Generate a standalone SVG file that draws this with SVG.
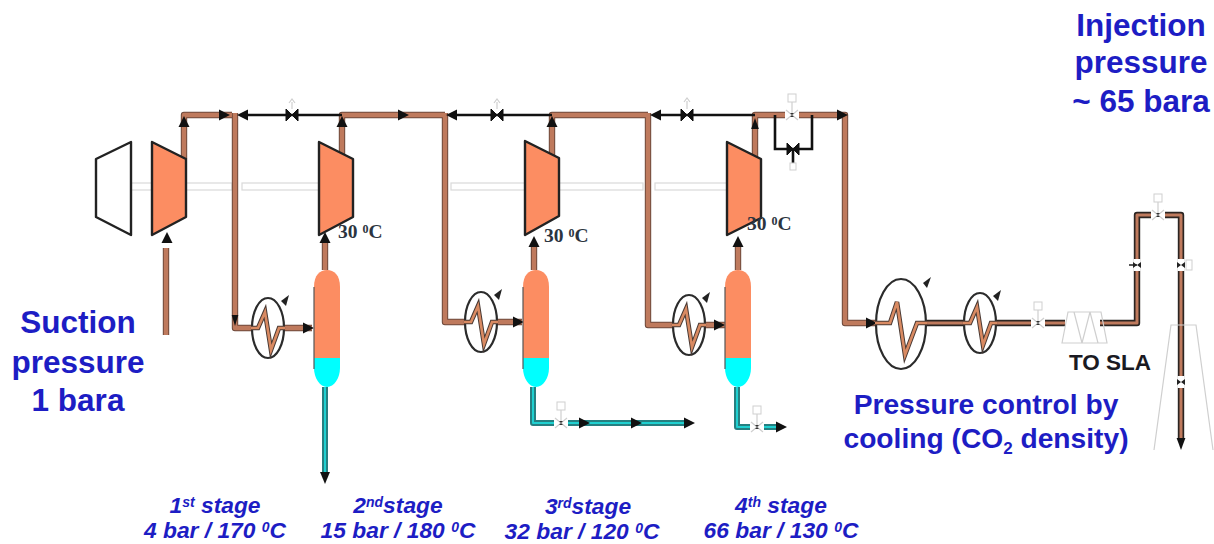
<svg xmlns="http://www.w3.org/2000/svg" width="1214" height="544" viewBox="0 0 1214 544">
<style>
text{font-family:"Liberation Sans",Arial,sans-serif;text-anchor:middle}
.b{fill:#1d1dc4;font-weight:700}
.big{font-size:31.5px}.mid{font-size:28.2px}
.st{font-size:22.8px;font-style:italic}
.t{font-family:"Liberation Serif","Times New Roman",serif;font-size:19.5px;font-weight:700;fill:#2b3440;text-anchor:start}
.sl{font-size:22.5px;font-weight:700;fill:#1a1a22}
.edge{fill:none;stroke:#6e4a3c;stroke-width:6.4;stroke-linejoin:round}
.pipe{fill:none;stroke:#bf7a5d;stroke-width:4.4;stroke-linejoin:round}
.edged{fill:none;stroke:#2b2522;stroke-width:6.4;stroke-linejoin:round}
.piped{fill:none;stroke:#bf7a5d;stroke-width:3;stroke-linejoin:round}
.teal{fill:none;stroke:#257f80;stroke-width:6;stroke-linejoin:round}
.cy{fill:none;stroke:#1fd0d0;stroke-width:2;stroke-linejoin:round}
.blk{fill:none;stroke:#111;stroke-width:2.6}
.comp{fill:#fc8d62;stroke:#222;stroke-width:2.4;stroke-linejoin:round}
.shaft{fill:#fff;stroke:#d9d9d9;stroke-width:1.2}
.ex{fill:#fff;stroke:#2b2b2b;stroke-width:2.2}
.zig{fill:none;stroke:#d98a62;stroke-width:2.6;stroke-linejoin:miter}
.zige{fill:none;stroke:#4a3a34;stroke-width:4.6}
.g{fill:none;stroke:#cfcfcf;stroke-width:1.2}
</style>
<defs>
<path id="ar" d="M-11,-5.5 L0,0 L-11,5.5 Z" fill="#111"/>
<g id="val"><path d="M-6,-6 L0,0 L-6,6 Z M6,-6 L0,0 L6,6 Z" fill="#111" stroke="#111"/></g>
<g id="gval"><rect x="-7" y="-6" width="14" height="12" fill="#fff"/><path d="M-6,-5 L6,5 M-6,5 L6,-5 M0,0 V-13" class="g"/><rect x="-4" y="-21" width="8" height="8" fill="#fff" stroke="#cfcfcf"/><path d="M-2,-2 L2,-2 L-2,2 L2,2 Z" fill="#333"/></g>
<g id="xc"><ellipse rx="16" ry="30" class="ex"/><path d="M-17,0 H-10 L-3,-16 L3,22 L11,0 H17" class="zige"/><path d="M-17,0 H-10 L-3,-16 L3,22 L11,0 H17" class="zig"/><path d="M13,-27 L21,-33 L18,-22 Z" fill="#222"/></g>
<g id="vess"><path d="M0,17 C0,5 6,0 13,0 C20,0 26,5 26,17 V88 H0 Z" fill="#fc8d62"/><path d="M0,88 H26 V98 C26,108 20,117 13,117 C6,117 0,108 0,98 Z" fill="#0ff"/><path d="M0,17 V99" stroke="#555" stroke-width="1.2"/></g>
</defs>

<g id="shafts">
<rect class="shaft" x="131" y="183" width="101" height="7"/>
<rect class="shaft" x="242" y="183" width="77" height="7"/>
<rect class="shaft" x="451" y="183" width="192" height="7"/>
<rect class="shaft" x="655" y="183" width="72" height="7"/>
</g>

<g id="connectors">
<path class="edge" d="M166,335 V248 M184,159 V115 H232 M235,113 V328 H256 M279,328 H312 M325,270 V243"/>
<path class="pipe" d="M166,335 V248 M184,159 V115 H232 M235,113 V328 H256 M279,328 H312 M325,270 V243"/>
<path class="edge" d="M342,159 V115 H445 M445,113 V322 H470 M493,322 H522 M534,270 V243"/>
<path class="pipe" d="M342,159 V115 H445 M445,113 V322 H470 M493,322 H522 M534,270 V243"/>
<path class="edge" d="M552,159 V115 H648 M648,113 V325 H677 M700,325 H725 M738,270 V243"/>
<path class="pipe" d="M552,159 V115 H648 M648,113 V325 H677 M700,325 H725 M738,270 V243"/>
<path class="edge" d="M755,159 V115 H845 V323 H875"/>
<path class="pipe" d="M755,159 V115 H845 V323 H875"/>
<path class="edged" d="M925,323 H1065 M1100,323 H1137 V215 H1181 V438"/>
<path class="piped" d="M925,323 H1065 M1100,323 H1137 V215 H1181 V438"/>
<path class="blk" d="M244,115 H342 M454,115 H552 M658,115 H755"/>
<path class="blk" d="M775,115 V149 H812 V115"/>
<path class="blk" d="M793,149 V163" stroke-width="2"/>
<path class="teal" d="M325,387 V472 M533,387 V423 H686 M737,387 V427 H778"/>
<path class="cy" d="M325,387 V472 M533,387 V423 H686 M737,387 V427 H778"/>
<use href="#ar" transform="translate(230,115)"/>
<use href="#ar" transform="translate(409,115)"/>
<use href="#ar" transform="translate(848,115)"/>
<use href="#ar" transform="translate(237,115) rotate(180)"/>
<use href="#ar" transform="translate(446,115) rotate(180)"/>
<use href="#ar" transform="translate(650,115) rotate(180)"/>
<use href="#ar" transform="translate(167,232) rotate(-90)"/>
<use href="#ar" transform="translate(184,116) rotate(-90)"/>
<use href="#ar" transform="translate(342,116) rotate(-90)"/>
<use href="#ar" transform="translate(552,116) rotate(-90)"/>
<use href="#ar" transform="translate(755,118) rotate(-90) scale(1,.7)"/>
<use href="#ar" transform="translate(325,232) rotate(-90)"/>
<use href="#ar" transform="translate(534,236) rotate(-90)"/>
<use href="#ar" transform="translate(738,236) rotate(-90)"/>
<use href="#ar" transform="translate(314,328)"/>
<use href="#ar" transform="translate(524,322)"/>
<use href="#ar" transform="translate(725,325)"/>
<use href="#ar" transform="translate(877,323)"/>
<use href="#ar" transform="translate(325,484)rotate(90) scale(1.1,.9)"/>
<use href="#ar" transform="translate(1181,450) rotate(90) scale(1.1,.8)"/>
<use href="#ar" transform="translate(235,326) rotate(90) scale(1,.6)"/>
<use href="#ar" transform="translate(590,423)"/>
<use href="#ar" transform="translate(642,423)"/>
<use href="#ar" transform="translate(695,423)"/>
<use href="#ar" transform="translate(787,427)"/>
</g>

<g id="valves">
<use href="#val" transform="translate(292,115)"/>
<path class="g" d="M292,109 V102 M289,103 L292,99 L295,103"/>
<use href="#val" transform="translate(497,115)"/>
<path class="g" d="M497,109 V102 M494,103 L497,99 L500,103"/>
<use href="#val" transform="translate(687,115)"/>
<path class="g" d="M687,109 V101 M684,102 L687,98 L690,102"/>
<use href="#gval" transform="translate(792,115)"/>
<use href="#val" transform="translate(793,149)"/>
<rect x="790" y="163" width="6" height="7" fill="#fff" stroke="#cfcfcf"/>
<use href="#gval" transform="translate(561,423)"/>
<use href="#gval" transform="translate(757,427)"/>
<use href="#gval" transform="translate(1038,323)"/>
<use href="#gval" transform="translate(1158,215)"/>
<path d="M1137,259 V271 M1181,259 V271 M1181,376 V388" stroke="#fff" stroke-width="7" fill="none"/>
<path d="M1133,262 L1137,265 L1133,268 Z M1141,262 L1137,265 L1141,268 Z M1177,262 L1181,265 L1177,268 Z M1185,262 L1181,265 L1185,268 Z M1177,379 L1181,382 L1177,385 Z M1185,379 L1181,382 L1185,385 Z" fill="#222"/>
<path d="M1129,265 H1137" stroke="#222" stroke-width="1.5"/>
<rect x="1186" y="260" width="6" height="10" fill="#fff" stroke="#cfcfcf"/>
</g>

<g id="compressor-0"><path d="M96,159 L131,142 V235 L96,217 Z" fill="#fff" stroke="#222" stroke-width="2.4" stroke-linejoin="round"/></g>
<g id="compressor-1"><path class="comp" d="M152,142 L186,159 V217 L152,235 Z"/></g>
<g id="compressor-2"><path class="comp" d="M319,142 L353,159 V217 L319,235 Z"/></g>
<g id="compressor-3"><path class="comp" d="M525,141 L559,158 V216 L525,235 Z"/></g>
<g id="compressor-4"><path class="comp" d="M727,142 L761,159 V218 L727,235 Z"/></g>

<g id="vessel-1"><use href="#vess" transform="translate(314,270)"/></g>
<g id="vessel-2"><use href="#vess" transform="translate(523,270)"/></g>
<g id="vessel-3"><use href="#vess" transform="translate(725,270)"/></g>

<g id="exchanger-1"><use href="#xc" transform="translate(268,328)"/></g>
<g id="exchanger-2"><use href="#xc" transform="translate(481,322)"/></g>
<g id="exchanger-3"><use href="#xc" transform="translate(689,325)"/></g>
<g id="exchanger-4">
<ellipse cx="901" cy="324" rx="25" ry="45" class="ex"/>
<path d="M875,323 H890 L897,302 L905,355 L917,323 H927" class="zige"/>
<path d="M875,323 H890 L897,302 L905,355 L917,323 H927" class="zig"/>
<path d="M923,283 L931,277 L927,288 Z" fill="#222"/>
</g>
<g id="exchanger-5"><use href="#xc" transform="translate(980,323)"/></g>

<g id="sla">
<path class="g" d="M1062,343 L1068,312 H1101 L1107,343 Z M1074,312 L1082,343 L1090,312 L1098,343"/>
<text class="sl" x="1110" y="370">TO SLA</text>
</g>
<g id="stack"><path class="g" d="M1154,450 L1171,325 H1196 L1213,450"/></g>

<g id="labels">
<text class="t" x="338" y="238">30 <tspan font-size="12" dy="-5">0</tspan><tspan dy="5">C</tspan></text>
<text class="t" x="544" y="242">30 <tspan font-size="12" dy="-5">0</tspan><tspan dy="5">C</tspan></text>
<text class="t" x="747" y="230">30 <tspan font-size="12" dy="-5">0</tspan><tspan dy="5">C</tspan></text>
<text class="b big" x="78" y="333">Suction</text>
<text class="b big" x="78" y="373">pressure</text>
<text class="b big" x="78" y="411">1 bara</text>
<text class="b big" x="1141" y="36">Injection</text>
<text class="b big" x="1141" y="73">pressure</text>
<text class="b big" x="1141" y="112">~ 65 bara</text>
<text class="b mid" x="986" y="414">Pressure control by</text>
<text class="b mid" x="986" y="448">cooling (CO<tspan font-size="17" dy="6">2</tspan><tspan dy="-6"> density)</tspan></text>
<text class="b st" x="215" y="513">1<tspan font-size="14" dy="-6">st</tspan><tspan dy="6"> stage</tspan></text>
<text class="b st" x="215" y="538">4 bar / 170 <tspan font-size="14" dy="-6">0</tspan><tspan dy="6">C</tspan></text>
<text class="b st" x="398" y="513">2<tspan font-size="14" dy="-6">nd</tspan><tspan dy="6">stage</tspan></text>
<text class="b st" x="398" y="538">15 bar / 180 <tspan font-size="14" dy="-6">0</tspan><tspan dy="6">C</tspan></text>
<text class="b st" x="588" y="514">3<tspan font-size="14" dy="-6">rd</tspan><tspan dy="6">stage</tspan></text>
<text class="b st" x="582" y="539">32 bar / 120 <tspan font-size="14" dy="-6">0</tspan><tspan dy="6">C</tspan></text>
<text class="b st" x="781" y="513">4<tspan font-size="14" dy="-6">th</tspan><tspan dy="6"> stage</tspan></text>
<text class="b st" x="781" y="538">66 bar / 130 <tspan font-size="14" dy="-6">0</tspan><tspan dy="6">C</tspan></text>
</g>
</svg>
